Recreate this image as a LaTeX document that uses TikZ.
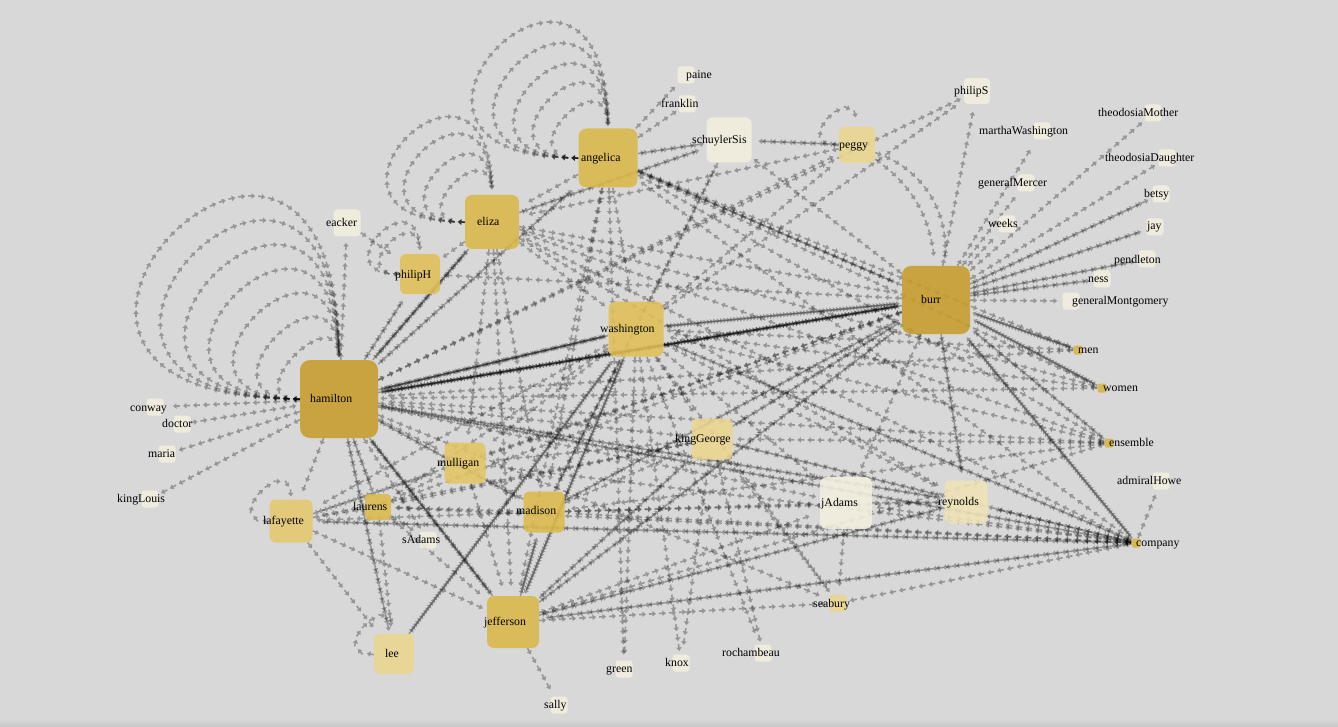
\documentclass[tikz,border=0pt]{standalone}
\usepackage{fontspec}
\setmainfont{Liberation Serif}
\usetikzlibrary{decorations.markings}
\pgfdeclarelayer{bg}
\pgfdeclarelayer{edges}
\pgfsetlayers{bg,edges,main}
\definecolor{bgc}{HTML}{D8D8D8}
\definecolor{cH}{HTML}{C89C2A}
\definecolor{cA}{HTML}{DBB848}
\definecolor{cM}{HTML}{DDBA4C}
\definecolor{cW}{HTML}{E0BF56}
\definecolor{cMu}{HTML}{E3C563}
\definecolor{cL}{HTML}{E5C86E}
\definecolor{cK}{HTML}{EBD68F}
\definecolor{cR}{HTML}{EFE3B4}
\definecolor{cC}{HTML}{F3EFDF}
\definecolor{cT}{HTML}{D8B443}
\tikzset{
  ecol/.style={fill=black, fill opacity=.3},
  edg/.style={postaction={decorate}, decoration={markings,
      mark=between positions #1 and -2pt step 10pt with {\fill[ecol] (-7pt,-0.8pt) -- (-3.6pt,-0.8pt)
        -- (-3.6pt,-2.8pt) -- (0pt,0pt) -- (-3.6pt,2.8pt) -- (-3.6pt,0.8pt) -- (-7pt,0.8pt) -- cycle;}}},
  edg/.default=7pt,
  box/.style n args={3}{shape=rectangle, draw=none, fill=#2, fill opacity=.88,
      minimum size=#1, inner sep=0pt, rounded corners=#3},
  sbox/.style={box={17pt}{cC}{3pt}},
  tbox/.style={box={9pt}{cT}{1.5pt}},
  lbl/.style={anchor=west, inner sep=0pt, text=black, text height=8pt, text depth=2.5pt,
      font=\fontsize{11.8}{13}\selectfont},
}
\newcommand\edgeK[3]{\foreach \k in {1,...,#3}{\pgfmathsetmacro\ph{7+3.3*(\k-1)}\path[edg=\ph pt] (#1) -- (#2);}}
\newcommand\loopK[2]{\path[edg] (#1.west) .. controls +(-#2,0) and +(0,-#2) .. (#1.north);}
\begin{document}
\begin{tikzpicture}[x=1pt,y=-1pt]
\useasboundingbox (0,0) rectangle (1338,727);
\begin{pgfonlayer}{bg}
\fill[bgc] (0,0) rectangle (1338,727);
\shade[top color=bgc, bottom color=black!22] (0,719) rectangle (1338,727);
\end{pgfonlayer}
% ---------- boxes ----------
\node[box={78pt}{cH}{10pt}] (ham) at (339,399) {};
\node[box={68pt}{cH}{9pt}] (burr) at (936,300) {};
\node[box={59pt}{cA}{8pt}] (ang) at (608,158) {};
\node[box={54pt}{cA}{7pt}] (eli) at (492,222) {};
\node[box={55pt}{cW}{7pt}] (wash) at (636,329) {};
\node[box={52pt}{cA}{7pt}] (jeff) at (513,622) {};
\node[box={52pt}{cC}{7pt}] (jad) at (846,503) {};
\node[box={41pt}{cM}{6pt}] (mad) at (544,512) {};
\node[box={41pt}{cMu}{6pt}] (mul) at (465,463) {};
\node[box={40pt}{cW}{6pt}] (phh) at (420,274) {};
\node[box={41pt}{cK}{6pt}] (kg) at (712,439) {};
\node[box={43pt}{cL}{6pt}] (laf) at (291,521) {};
\node[box={43pt}{cR}{6pt}] (rey) at (966,502) {};
\node[box={40pt}{cK}{6pt}] (lee) at (394,654) {};
\node[box={36pt}{cK}{5pt}] (peg) at (857,145) {};
\node[box={45pt}{cC}{6pt}] (ssis) at (729,140) {};
\node[box={26pt}{cM}{4pt}] (lau) at (378,507) {};
\node[box={26pt}{cC}{4pt}] (phs) at (977,91) {};
\node[box={27pt}{cC}{4pt}] (eck) at (347,223) {};
\node[sbox] (paine) at (686,75) {};
\node[sbox] (frank) at (687,104) {};
\node[sbox] (mw) at (1042,131) {};
\node[sbox] (tmo) at (1153,113) {};
\node[sbox] (tda) at (1167,158) {};
\node[sbox] (gme) at (1026,183) {};
\node[sbox] (betsy) at (1161,194) {};
\node[sbox] (weeks) at (1007,224) {};
\node[sbox] (jay) at (1155,227) {};
\node[sbox] (pend) at (1147,259) {};
\node[sbox] (ness) at (1102,279) {};
\node[sbox] (gmo) at (1071,301) {};
\node[sbox] (howe) at (1161,481) {};
\node[sbox] (conway) at (155,407) {};
\node[sbox] (doctor) at (182,424) {};
\node[sbox] (maria) at (167,454) {};
\node[sbox] (klou) at (150,499) {};
\node[sbox] (sad) at (428,540) {};
\node[sbox] (green) at (624,669) {};
\node[sbox] (knox) at (681,663) {};
\node[sbox] (roch) at (763,653) {};
\node[sbox] (sally) at (559,705) {};
\node[box={17pt}{cK}{3pt}] (seab) at (838,603) {};
\node[tbox] (men) at (1078,350) {};
\node[tbox] (women) at (1102,388) {};
\node[tbox] (ens) at (1109,443) {};
\node[tbox] (comp) at (1136,543) {};
% ---------- edges ----------
\begin{pgfonlayer}{edges}
% self loops
\foreach \L in {390,335,280,225,170,115,65} {\loopK{ham}{\L}}
\foreach \L in {255,207,161,117,73} {\loopK{ang}{\L}}
\foreach \L in {190,151,105,66} {\loopK{eli}{\L}}
\foreach \L in {80,55} {\loopK{phh}{\L}}
\loopK{laf}{50}
\loopK{lee}{50}
\loopK{peg}{50}
% hamilton
\edgeK{ham}{conway}{1}\edgeK{doctor}{ham}{1}\edgeK{ham}{maria}{1}\edgeK{ham}{klou}{1}
\edgeK{ham}{eck}{1}\edgeK{ham}{phh}{2}\edgeK{ham}{eli}{3}\edgeK{eli}{ham}{1}
\edgeK{ham}{ang}{2}\edgeK{ham}{burr}{4}\edgeK{burr}{ham}{3}\edgeK{ham}{wash}{3}
\edgeK{wash}{ham}{2}\edgeK{ham}{jeff}{3}\edgeK{jeff}{ham}{1}\edgeK{ham}{mad}{2}
\edgeK{ham}{laf}{1}\edgeK{ham}{lau}{2}\edgeK{ham}{mul}{1}\edgeK{ham}{lee}{2}
\edgeK{ham}{kg}{1}\edgeK{ham}{jad}{1}\edgeK{ham}{rey}{2}\edgeK{comp}{ham}{2}
\edgeK{ens}{ham}{1}\edgeK{women}{ham}{1}\edgeK{men}{ham}{1}\edgeK{ham}{seab}{1}
\edgeK{ham}{phs}{1}\edgeK{ham}{peg}{1}\edgeK{ham}{sad}{1}
% burr
\edgeK{burr}{phs}{1}\edgeK{burr}{mw}{1}\edgeK{burr}{gme}{1}\edgeK{burr}{weeks}{1}
\edgeK{burr}{tmo}{1}\edgeK{burr}{tda}{1}\edgeK{burr}{betsy}{2}\edgeK{burr}{jay}{2}
\edgeK{burr}{pend}{2}\edgeK{burr}{ness}{2}\edgeK{burr}{gmo}{1}
\edgeK{men}{burr}{3}\edgeK{women}{burr}{3}\edgeK{ens}{burr}{2}\edgeK{comp}{burr}{3}
\edgeK{ang}{burr}{2}\edgeK{burr}{ang}{1}\edgeK{eli}{burr}{1}\edgeK{burr}{ssis}{1}\edgeK{wash}{burr}{3}
\edgeK{jeff}{burr}{2}\edgeK{mad}{burr}{2}\edgeK{kg}{burr}{2}\edgeK{burr}{jad}{1}
\edgeK{burr}{rey}{2}\edgeK{burr}{laf}{1}\edgeK{burr}{lau}{1}\edgeK{burr}{mul}{1}
\edgeK{burr}{phh}{1}
\path[edg] (peg) to[bend left=25] (burr);
\path[edg] (peg) to[bend left=40] (burr);
% angelica
\edgeK{ang}{paine}{1}\edgeK{ang}{frank}{1}\edgeK{ang}{ssis}{2}\edgeK{peg}{ssis}{2}
\edgeK{ang}{eli}{1}\edgeK{ang}{wash}{1}\edgeK{ang}{women}{1}\edgeK{ang}{men}{1}
\edgeK{ang}{ens}{1}\edgeK{comp}{ang}{1}\edgeK{ang}{jeff}{1}\edgeK{ang}{mad}{1}
\edgeK{ang}{green}{1}
% eliza
\edgeK{eli}{phh}{1}\edgeK{eck}{phh}{1}\edgeK{eli}{wash}{1}\edgeK{eli}{women}{1}
\edgeK{ens}{eli}{1}\edgeK{comp}{eli}{1}\edgeK{eli}{ssis}{2}\edgeK{eli}{rey}{1}
\edgeK{eli}{jeff}{1}\edgeK{eli}{mad}{1}\edgeK{eli}{mul}{1}\edgeK{peg}{eli}{1}
% washington
\edgeK{wash}{green}{1}\edgeK{wash}{knox}{1}\edgeK{wash}{roch}{1}\edgeK{wash}{jeff}{3}
\edgeK{mad}{wash}{2}\edgeK{wash}{laf}{1}\edgeK{wash}{lau}{1}\edgeK{wash}{mul}{1}
\edgeK{lee}{wash}{3}\edgeK{wash}{kg}{1}\edgeK{wash}{seab}{1}\edgeK{wash}{jad}{1}
\edgeK{wash}{rey}{1}\edgeK{comp}{wash}{2}\edgeK{ens}{wash}{1}\edgeK{men}{wash}{1}
\edgeK{women}{wash}{1}\edgeK{wash}{ssis}{1}\edgeK{wash}{peg}{1}\edgeK{wash}{phs}{1}
\edgeK{ssis}{mad}{1}
% jefferson
\edgeK{jeff}{sally}{1}\edgeK{jeff}{mad}{3}\edgeK{jeff}{kg}{2}\edgeK{jeff}{jad}{1}
\edgeK{jeff}{rey}{2}\edgeK{jeff}{seab}{1}\edgeK{comp}{jeff}{2}\edgeK{ens}{jeff}{1}
\edgeK{laf}{jeff}{1}\edgeK{lau}{jeff}{1}\edgeK{mul}{jeff}{1}
% madison
\edgeK{mad}{kg}{1}\edgeK{mad}{jad}{1}\edgeK{mad}{rey}{1}\edgeK{comp}{mad}{1}
\edgeK{ens}{mad}{1}\edgeK{mad}{mul}{1}\edgeK{mad}{lau}{1}\edgeK{mad}{laf}{1}
% kingGeorge
\edgeK{kg}{laf}{1}\edgeK{kg}{mul}{1}\edgeK{kg}{lau}{1}\edgeK{comp}{kg}{1}
\edgeK{ens}{kg}{1}\edgeK{kg}{seab}{1}\edgeK{kg}{knox}{1}\edgeK{kg}{rey}{1}\edgeK{kg}{roch}{1}
% others
\edgeK{laf}{lau}{1}\edgeK{laf}{mul}{1}\edgeK{comp}{laf}{2}\edgeK{laf}{lee}{1}
\edgeK{lau}{sad}{1}\edgeK{lau}{mul}{1}\edgeK{comp}{lau}{1}\edgeK{lau}{lee}{1}
\edgeK{comp}{mul}{1}\edgeK{comp}{jad}{1}\edgeK{jad}{seab}{1}\edgeK{jad}{rey}{1}
\edgeK{comp}{rey}{2}\edgeK{comp}{seab}{1}\edgeK{comp}{howe}{1}
\end{pgfonlayer}
% ---------- labels ----------
\node[lbl] (t-ham) at (310,400) {hamilton};
\node[lbl] (t-burr) at (921,301) {burr};
\node[lbl] (t-ang) at (581,159) {angelica};
\node[lbl] (t-eli) at (477,223) {eliza};
\node[lbl] (t-wash) at (600,330) {washington};
\node[lbl] (t-jeff) at (484,623) {jefferson};
\node[lbl] (t-jad) at (821,504) {jAdams};
\node[lbl] (t-mad) at (516,512) {madison};
\node[lbl] (t-mul) at (437,464) {mulligan};
\node[lbl] (t-phh) at (395,276) {philipH};
\node[lbl] (t-kg) at (675,440) {kingGeorge};
\node[lbl] (t-laf) at (263,522) {lafayette};
\node[lbl] (t-rey) at (938,503) {reynolds};
\node[lbl] (t-lee) at (385,655) {lee};
\node[lbl] (t-peg) at (839,146) {peggy};
\node[lbl] (t-ssis) at (692,141) {schuylerSis};
\node[lbl] (t-lau) at (353,508) {laurens};
\node[lbl] (t-phs) at (954,92) {philipS};
\node[lbl] (t-eck) at (326,224) {eacker};
\node[lbl] (t-paine) at (686,76) {paine};
\node[lbl] (t-frank) at (661,105) {franklin};
\node[lbl] (t-mw) at (979,132) {marthaWashington};
\node[lbl] (t-tmo) at (1098,114) {theodosiaMother};
\node[lbl] (t-tda) at (1105,159) {theodosiaDaughter};
\node[lbl] (t-gme) at (978,184) {generalMercer};
\node[lbl] (t-betsy) at (1144,195) {betsy};
\node[lbl] (t-weeks) at (988,225) {weeks};
\node[lbl] (t-jay) at (1147,227) {jay};
\node[lbl] (t-pend) at (1114,261) {pendleton};
\node[lbl] (t-ness) at (1088,280) {ness};
\node[lbl] (t-gmo) at (1072,302) {generalMontgomery};
\node[lbl] (t-men) at (1078,351) {men};
\node[lbl] (t-women) at (1103,389) {women};
\node[lbl] (t-ens) at (1109,444) {ensemble};
\node[lbl] (t-howe) at (1117,482) {admiralHowe};
\node[lbl] (t-comp) at (1136,544) {company};
\node[lbl] (t-conway) at (130,409) {conway};
\node[lbl] (t-doctor) at (162,425) {doctor};
\node[lbl] (t-maria) at (148,455) {maria};
\node[lbl] (t-klou) at (117,500) {kingLouis};
\node[lbl] (t-sad) at (402,541) {sAdams};
\node[lbl] (t-green) at (606,670) {green};
\node[lbl] (t-knox) at (665,664) {knox};
\node[lbl] (t-roch) at (722,654) {rochambeau};
\node[lbl] (t-seab) at (813,605) {seabury};
\node[lbl] (t-sally) at (544,706) {sally};
\end{tikzpicture}
\end{document}
